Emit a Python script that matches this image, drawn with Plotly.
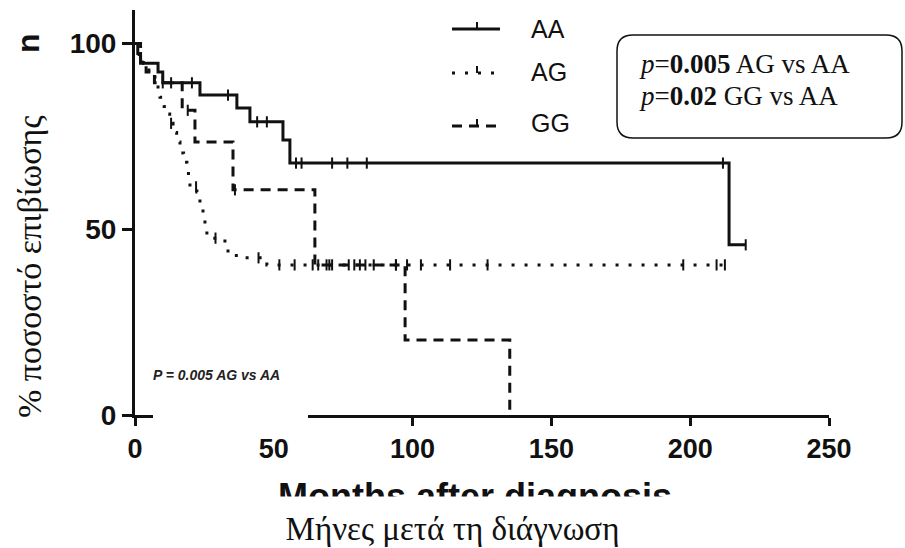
import plotly.graph_objects as go

# ---------------- data ----------------
aa_times = [0, 1, 2, 8.3, 10, 23.4, 36.7, 41.4, 53.3, 55.8, 214]
aa_surv = [100, 97.3, 94.7, 92.3, 89.4, 86.1, 82.6, 78.9, 74.0, 67.8, 45.8]
aa_end = 220
aa_censor = [13, 20.5, 33.5, 44, 47.5, 58, 60, 71, 76.5, 83.5, 211.8, 220]

ag_times = [0, 1.5, 3, 5, 7.2, 9, 10.5, 11.5, 12.5, 13.7, 15, 16.2, 17.5, 18.7,
            19.8, 22.3, 23.4, 24.5, 25.2, 25.9, 32.4, 33.5, 36.5, 47.5]
ag_surv = [100, 97, 94.7, 92.3, 88.3, 85.5, 83, 81, 78.5, 76, 73.5, 70.5, 68, 65,
           61.4, 60, 56, 52.5, 49.8, 47.6, 46.3, 43.6, 42.3, 40.4]
ag_end = 213.5
ag_censor = [13, 22, 29, 44.5, 52, 57.5, 64, 69, 71, 77, 79, 81, 83, 86, 94, 98,
             103, 113.5, 127, 197.5, 209.5, 212.5]

gg_times = [0, 2, 4, 7, 17, 21.6, 35.3, 64.8, 97.3, 135]
gg_surv = [100, 95, 92.3, 89.4, 82, 73.5, 60.6, 40.4, 20.2, 0]
gg_end = 135
gg_censor = [10, 19, 36, 66, 70, 94]

group_names = ["AA", "AG", "GG"]
x_ticks = [0, 50, 100, 150, 200, 250]
y_ticks = [0, 50, 100]

# ---------------- layout geometry (pixels) ----------------
W, H = 905, 548
L, R, T, B = 135, 829, 10, 415


def xp(px):
    return (px - L) / (R - L)


def yp(py):
    return (B - py) / (B - T)


def surv_at(t, times, surv):
    v = surv[0]
    for ti, si in zip(times, surv):
        if ti <= t:
            v = si
    return v


BLACK = "#111111"
fig = go.Figure()

styles = {
    "AA": dict(width=3, dash="solid"),
    "AG": dict(width=3, dash="3px,10px"),
    "GG": dict(width=3, dash="10px,7px"),
}
groups = [
    ("AA", aa_times, aa_surv, aa_end, aa_censor),
    ("AG", ag_times, ag_surv, ag_end, ag_censor),
    ("GG", gg_times, gg_surv, gg_end, gg_censor),
]
for name, t, s, end, cens in groups:
    xs = list(t) + [end]
    ys = list(s) + [s[-1]]
    fig.add_trace(go.Scatter(
        x=xs, y=ys, mode="lines", line_shape="hv", name=name,
        line=dict(color=BLACK, width=styles[name]["width"], dash=styles[name]["dash"]),
        showlegend=False, hoverinfo="skip"))
    fig.add_trace(go.Scatter(
        x=cens, y=[surv_at(c, t, s) for c in cens], mode="markers",
        marker=dict(symbol="line-ns-open", size=8, color=BLACK,
                    line=dict(color=BLACK, width=2)),
        showlegend=False, hoverinfo="skip"))

SANS = "Liberation Sans, Arial, sans-serif"
SERIF = "Liberation Serif, Times New Roman, serif"

fig.update_layout(
    width=W, height=H,
    margin=dict(l=L, r=W - R, t=T, b=H - B, pad=0),
    paper_bgcolor="white", plot_bgcolor="white",
    showlegend=False,
    xaxis=dict(range=[0, 250], tickvals=x_ticks, ticks="outside", ticklen=8,
               tickwidth=2.5, tickcolor=BLACK, showline=True, linewidth=3,
               linecolor=BLACK, showgrid=False, zeroline=False,
               tickfont=dict(family=SANS, size=27, color=BLACK, weight="bold")),
    yaxis=dict(range=[0, 109], tickvals=y_ticks, ticks="outside", ticklen=10,
               tickwidth=2.5, tickcolor=BLACK, showline=True, linewidth=3,
               linecolor=BLACK, showgrid=False, zeroline=False,
               tickfont=dict(family=SANS, size=28, color=BLACK, weight="bold")),
)

shapes = []
# white patch hiding part of the x axis (lower left)
shapes.append(dict(type="rect", xref="paper", yref="paper", layer="above",
                   x0=xp(153), x1=xp(308), y0=yp(430), y1=yp(382),
                   fillcolor="white", line=dict(width=0)))

# rounded p-value box
x0, x1, y0, y1, r = 617, 902, 35, 138, 16
rx = r / (R - L)
ry = r / (B - T)
X0, X1, Y0, Y1 = xp(x0), xp(x1), yp(y0), yp(y1)
path = (f"M {X0+rx},{Y0} L {X1-rx},{Y0} Q {X1},{Y0} {X1},{Y0-ry} "
        f"L {X1},{Y1+ry} Q {X1},{Y1} {X1-rx},{Y1} L {X0+rx},{Y1} "
        f"Q {X0},{Y1} {X0},{Y1+ry} L {X0},{Y0-ry} Q {X0},{Y0} {X0+rx},{Y0} Z")
shapes.append(dict(type="path", xref="paper", yref="paper", path=path,
                   fillcolor="white", line=dict(color=BLACK, width=1.5), layer="above"))

# manual legend
leg_y = {"AA": 29, "AG": 73, "GG": 126}
for name in group_names:
    yy = leg_y[name]
    shapes.append(dict(type="line", xref="paper", yref="paper",
                       x0=xp(452), x1=xp(500), y0=yp(yy), y1=yp(yy),
                       line=dict(color=BLACK, width=styles[name]["width"],
                                 dash=styles[name]["dash"])))
    shapes.append(dict(type="line", xref="paper", yref="paper",
                       x0=xp(477), x1=xp(477), y0=yp(yy), y1=yp(yy - 7),
                       line=dict(color=BLACK, width=2)))
fig.update_layout(shapes=shapes)

ann = []
leg_text_y = {"AA": 28.5, "AG": 72, "GG": 122.5}
for name in group_names:
    ann.append(dict(text=name, xref="paper", yref="paper", x=xp(529), y=yp(leg_text_y[name]),
                    xanchor="left", yanchor="middle", showarrow=False,
                    font=dict(family=SANS, size=25, color=BLACK)))

ann.append(dict(text="<i>p</i>=<b>0.005</b> AG vs AA", xref="paper", yref="paper",
                x=xp(637), y=yp(64), xanchor="left", yanchor="middle", showarrow=False,
                font=dict(family=SERIF, size=27, color=BLACK)))
ann.append(dict(text="<i>p</i>=<b>0.02</b> GG vs AA", xref="paper", yref="paper",
                x=xp(637), y=yp(96), xanchor="left", yanchor="middle", showarrow=False,
                font=dict(family=SERIF, size=27, color=BLACK)))

ann.append(dict(text="<b><i>P = 0.005 AG vs AA</i></b>", xref="paper", yref="paper",
                x=xp(151), y=yp(375), xanchor="left", yanchor="middle", showarrow=False,
                font=dict(family=SANS, size=14, color="#222222")))

# remnant of the original axis title
ann.append(dict(text="<b>n</b>", xref="paper", yref="paper", x=xp(28), y=yp(43),
                xanchor="center", yanchor="middle", showarrow=False, textangle=-90,
                font=dict(family=SANS, size=32, color=BLACK)))

# Greek y title
ann.append(dict(text="% ποσοστό επιβίωσης", xref="paper", yref="paper",
                x=xp(29), y=yp(267), xanchor="center", yanchor="middle",
                showarrow=False, textangle=-90,
                font=dict(family=SERIF, size=34, color=BLACK)))

# original English x title (partially hidden)
ann.append(dict(text="<b>Months after diagnosis</b>", xref="paper", yref="paper",
                x=xp(475), y=yp(497), xanchor="center", yanchor="middle",
                showarrow=False, font=dict(family=SANS, size=36, color=BLACK)))

# Greek x title on white band
ann.append(dict(text="Μήνες μετά τη διάγνωση", xref="paper", yref="paper",
                x=xp(452.5), y=yp(529), xanchor="center", yanchor="middle",
                width=905, height=62, bgcolor="white", showarrow=False,
                font=dict(family=SERIF, size=33, color=BLACK)))

fig.update_layout(annotations=ann)
fig.write_html("out.html", config={"displayModeBar": False},
               post_script="document.body.style.margin='0';")
